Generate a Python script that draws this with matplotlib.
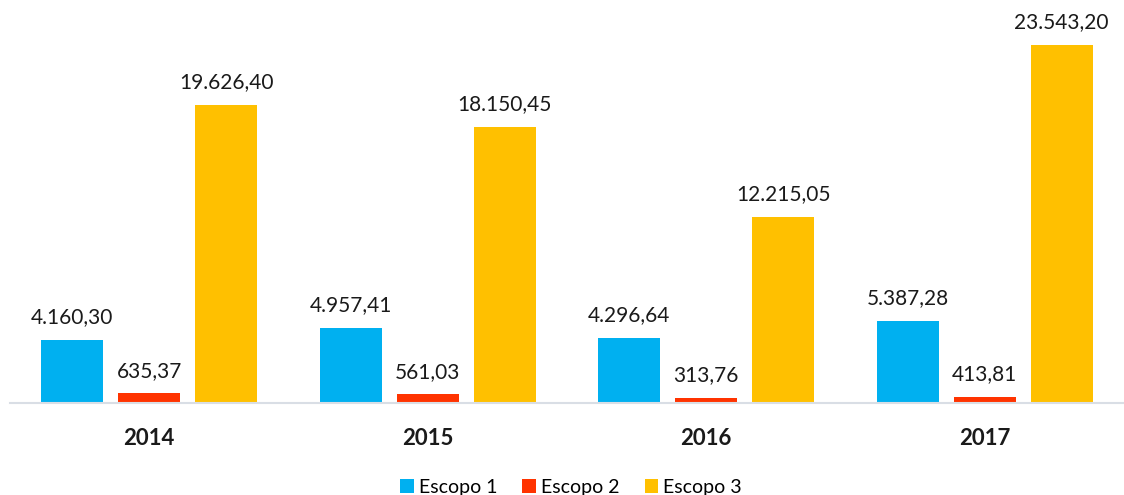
import numpy as np
import matplotlib
matplotlib.use("Agg")
import matplotlib.pyplot as plt
from matplotlib.patches import Patch

plt.rcParams['font.family'] = ['Lato', 'DejaVu Sans']

years = ["2014", "2015", "2016", "2017"]
series_names = ["Escopo 1", "Escopo 2", "Escopo 3"]
escopo1 = [4160.30, 4957.41, 4296.64, 5387.28]
escopo2 = [635.37, 561.03, 313.76, 413.81]
escopo3 = [19626.40, 18150.45, 12215.05, 23543.20]
colors = ["#00B0F0", "#FF3300", "#FFC000"]


def fmt_br(v):
    s = f"{v:,.2f}"
    return s.replace(",", "X").replace(".", ",").replace("X", ".")


fig = plt.figure(figsize=(11.24, 4.95), dpi=100)
ax = fig.add_axes([10 / 1124, 92 / 495, 1114 / 1124, 385 / 495])

x = np.arange(len(years))
width = 0.222
step = 0.276
data = [escopo1, escopo2, escopo3]
for i, (vals, col) in enumerate(zip(data, colors)):
    pos = x + (i - 1) * step
    bars = ax.bar(pos, vals, width=width, color=col, zorder=2)
    for b, v in zip(bars, vals):
        ax.annotate(fmt_br(v), (b.get_x() + b.get_width() / 2, v),
                    xytext=(0, 12), textcoords="offset points",
                    ha="center", va="baseline", fontsize=15, color="#1a1a1a")

ax.set_xlim(-0.5, len(years) - 0.5)
ax.set_ylim(0, 23543.20 * 385 / 358)
ax.set_xticks(x)
ax.set_xticklabels(years, fontsize=16, fontweight="bold", color="#1a1a1a")
ax.tick_params(axis="x", length=0, pad=18)
ax.set_yticks([])
for side in ["left", "right", "top"]:
    ax.spines[side].set_visible(False)
ax.spines["bottom"].set_color("#D9DEE5")
ax.spines["bottom"].set_linewidth(1.5)

handles = [Patch(facecolor=c, edgecolor="none") for c in colors]
fig.legend(handles, series_names, loc="center", bbox_to_anchor=(571 / 1124, 1 - 487 / 495),
           ncol=3, frameon=False, fontsize=14, handlelength=0.7, handleheight=0.7,
           handletextpad=0.25, columnspacing=1.3, borderpad=0)

fig.savefig("out.png", dpi=100)
